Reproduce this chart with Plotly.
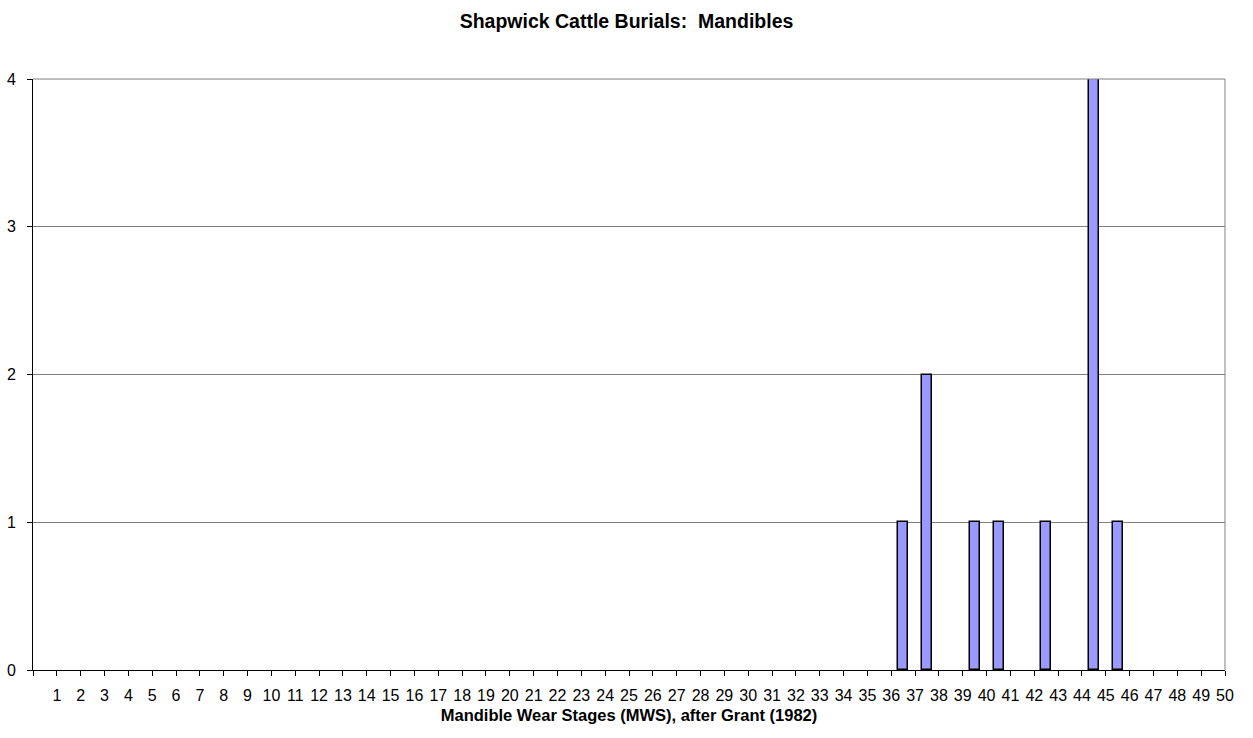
import plotly.graph_objects as go

# Mandible wear stages (Grant 1982) with their mandible counts
stages = [37, 38, 40, 41, 43, 45, 46]
counts = [1, 2, 1, 1, 1, 4, 1]

stage_ticks = list(range(0, 51))
stage_labels = [""] + [str(s) for s in range(1, 51)]

y_ticks = [0, 1, 2, 3, 4]

FONT = "Liberation Sans, Arial, sans-serif"
BAR_W = 0.42

fig = go.Figure()
fig.add_trace(go.Bar(
    x=stages,
    y=counts,
    width=BAR_W,
    offset=-0.5 - BAR_W / 2,
    marker=dict(color="#9999FF", line=dict(color="#000000", width=1.5)),
    showlegend=False,
))

fig.update_layout(
    width=1253,
    height=738,
    margin=dict(l=33, r=28, t=79, b=68),
    paper_bgcolor="white",
    plot_bgcolor="white",
    font=dict(family=FONT, size=16, color="black"),
    title=dict(
        text="<b>Shapwick Cattle Burials:\u00a0\u00a0Mandibles</b>",
        x=0.5, xanchor="center", y=1 - 21 / 738, yanchor="middle",
        font=dict(family=FONT, size=19.5, color="black"),
    ),
    xaxis=dict(
        range=[0, 50],
        tickmode="array",
        tickvals=stage_ticks,
        ticktext=stage_labels,
        ticks="outside",
        ticklen=5,
        tickcolor="black",
        showline=True,
        linecolor="black",
        linewidth=1,
        showgrid=False,
        zeroline=False,
        automargin=False,
        ticklabelstandoff=6,
        tickfont=dict(family=FONT, size=16),
        title=dict(
            text="<b>Mandible Wear Stages (MWS), after Grant (1982)</b>",
            font=dict(family=FONT, size=16.5),
            standoff=6,
        ),
    ),
    yaxis=dict(
        range=[0, 4],
        tickmode="array",
        tickvals=y_ticks,
        ticks="outside",
        ticklen=5,
        tickcolor="black",
        showline=True,
        linecolor="black",
        linewidth=1,
        showgrid=True,
        gridcolor="#808080",
        gridwidth=1,
        zeroline=False,
        automargin=False,
        ticklabelstandoff=8,
        tickfont=dict(family=FONT, size=16),
    ),
    bargap=0,
)

# grey plot-area border on the top and right sides
fig.add_shape(type="line", xref="paper", yref="paper", x0=0, x1=1, y0=1, y1=1,
              line=dict(color="#808080", width=1))
fig.add_shape(type="line", xref="paper", yref="paper", x0=1, x1=1, y0=0, y1=1,
              line=dict(color="#808080", width=1))

fig.write_html("out.html")
